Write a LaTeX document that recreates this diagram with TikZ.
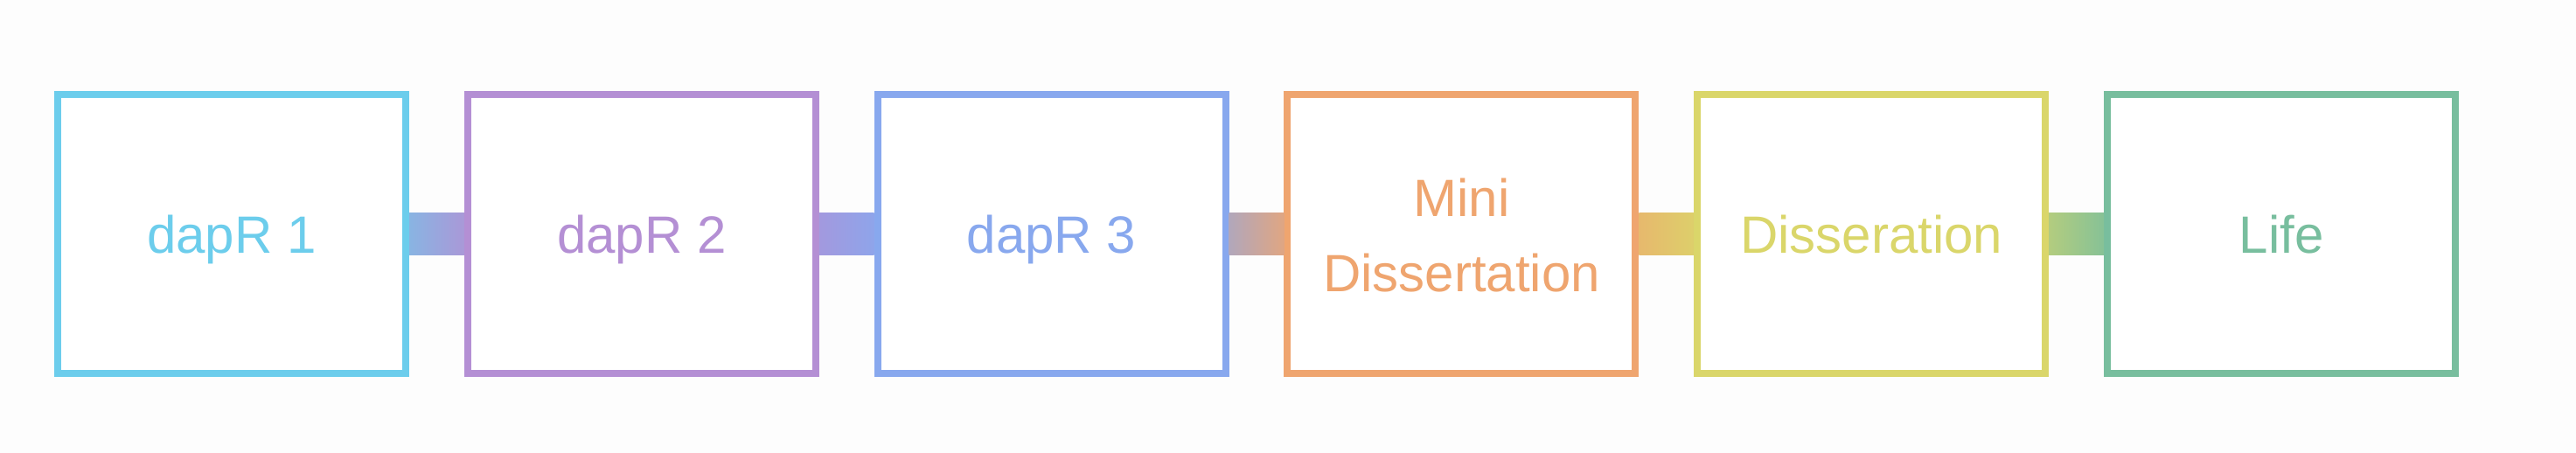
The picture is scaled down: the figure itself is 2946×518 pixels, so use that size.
\documentclass[tikz,border=0pt]{standalone}
\usepackage{fontspec}
\setmainfont{Liberation Sans}
\usetikzlibrary{calc}
\definecolor{bgcol}{HTML}{FDFDFD}
\definecolor{cA}{HTML}{6CCDEC}
\definecolor{cB}{HTML}{B48FD4}
\definecolor{cC}{HTML}{88A8EE}
\definecolor{cD}{HTML}{EFA56F}
\definecolor{cE}{HTML}{DAD66A}
\definecolor{cF}{HTML}{78BE9E}
\begin{document}
\begin{tikzpicture}[x=0.5pt,y=-0.5pt,
  stagebox/.style={draw=#1, line width=4pt, fill=white, minimum width=199pt,
    minimum height=159.5pt, inner sep=0pt, outer sep=2pt},
  stagetext/.style={text=#1, font=\fontsize{30pt}{43pt}\selectfont, align=center, inner sep=0pt},
  link/.style 2 args={left color=#1!60!#2, right color=#1!15!#2}
]
\fill[bgcol] (0,0) rectangle (2946,518);
\useasboundingbox (0,0) rectangle (2946,518);
% boxes
\node[stagebox=cA] (b1) at (265,267.5) {};
\node[stagebox=cB] (b2) at (733.8,267.5) {};
\node[stagebox=cC] (b3) at (1202.6,267.5) {};
\node[stagebox=cD] (b4) at (1671.4,267.5) {};
\node[stagebox=cE] (b5) at (2140.2,267.5) {};
\node[stagebox=cF] (b6) at (2609,267.5) {};
% connectors
\shade[link={cA}{cB}] ($(b1.east)+(0,-24)$) rectangle ($(b2.west)+(0,24)$);
\shade[link={cB}{cC}] ($(b2.east)+(0,-24)$) rectangle ($(b3.west)+(0,24)$);
\shade[link={cC}{cD}] ($(b3.east)+(0,-24)$) rectangle ($(b4.west)+(0,24)$);
\shade[link={cD}{cE}] ($(b4.east)+(0,-24)$) rectangle ($(b5.west)+(0,24)$);
\shade[link={cE}{cF}] ($(b5.east)+(0,-24)$) rectangle ($(b6.west)+(0,24)$);
% labels
\node[stagetext=cA, anchor=base] (t1) at (265,290) {dapR 1};
\node[stagetext=cB, anchor=base] (t2) at (733.8,290) {dapR 2};
\node[stagetext=cC, anchor=base] (t3) at (1202.6,290) {dapR 3};
\node[stagetext=cD, anchor=center] (t4) at (1671.4,269) {Mini\\Dissertation};
\node[stagetext=cE, anchor=base] (t5) at (2140.2,290) {Disseration};
\node[stagetext=cF, anchor=base] (t6) at (2609,290) {Life};
\end{tikzpicture}
\end{document}
